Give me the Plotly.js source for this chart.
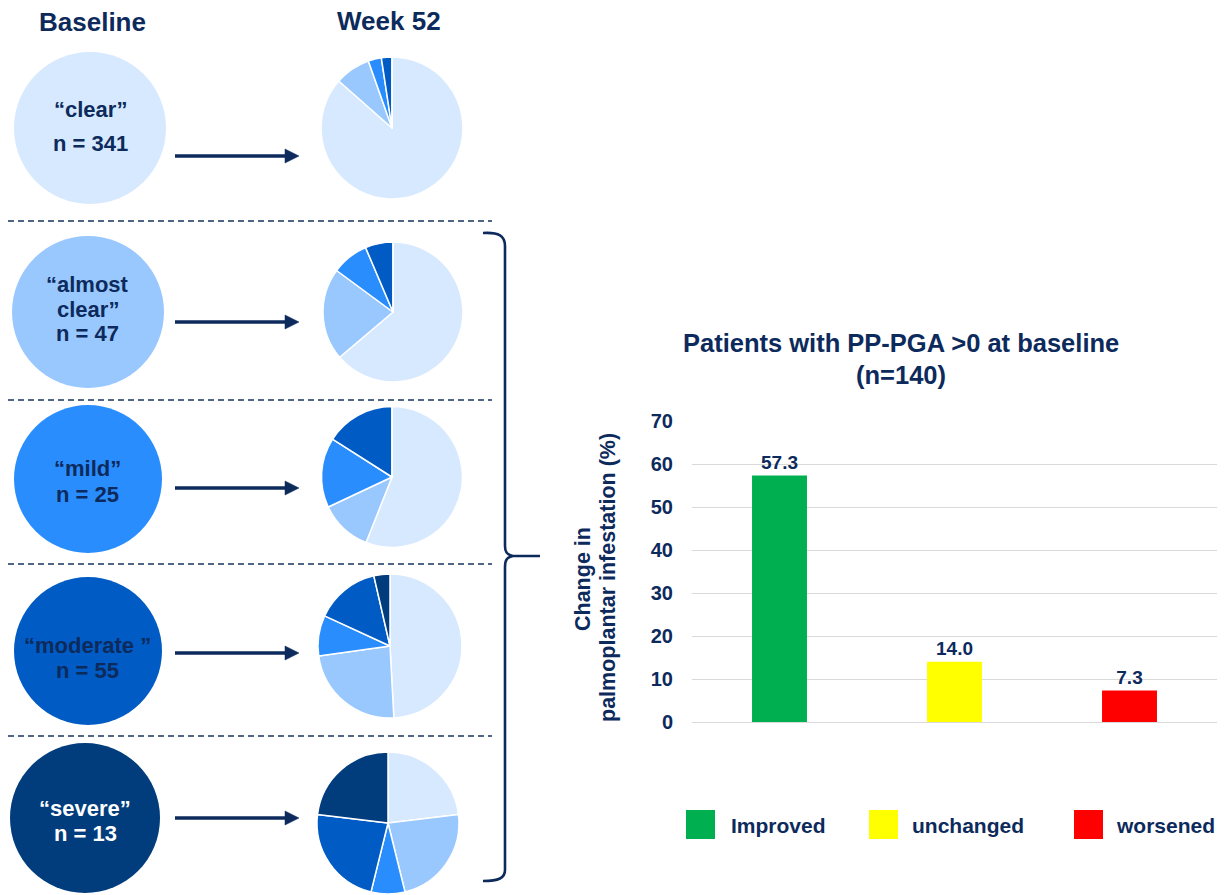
<!DOCTYPE html>
<html>
<head>
<meta charset="utf-8">
<script src="https://cdn.plot.ly/plotly-3.0.1.min.js"></script>
<style>html,body{margin:0;padding:0;background:#fff;}#chart{width:1226px;height:895px;}</style>
</head>
<body>
<div id="chart"></div>
<script>
// ---------- data ----------
const severityLevels = ['clear', 'almost clear', 'mild', 'moderate', 'severe'];
const baselineLabels = [['“clear”', 'n = 341'], ['“almost', 'clear”', 'n = 47'], ['“mild”', 'n = 25'], ['“moderate ”', 'n = 55'], ['“severe”', 'n = 13']];
const baselineN = [341, 47, 25, 55, 13];
// Week 52 distribution (% of patients) by baseline group, order: clear, almost clear, mild, moderate, severe
const week52FromClear = [86.5, 8.1, 3.0, 2.4, 0];
const week52FromAlmostClear = [63.8, 21.3, 8.5, 6.4, 0];
const week52FromMild = [56.0, 12.0, 16.0, 16.0, 0];
const week52FromModerate = [49.1, 23.6, 9.1, 14.5, 3.6];
const week52FromSevere = [23.1, 23.1, 7.7, 23.1, 23.1];
const outcomeCategories = ['Improved', 'unchanged', 'worsened'];
const outcomePercent = [57.3, 14.0, 7.3];
const yTicks = [0, 10, 20, 30, 40, 50, 60, 70];

// ---------- styling ----------
const W = 1226, H = 895;
const NAVY = '#0d2a5c';
const FONT = '"Liberation Sans", Arial, sans-serif';
const levelColors = ['#d6e9fe', '#99c8fe', '#2a8dfe', '#005bc4', '#013c7c'];
const outcomeColors = ['#00b050', '#ffff00', '#ff0000'];
const px = x => x / W;
const py = y => 1 - y / H;
const P = (x, y) => px(x) + ',' + py(y);

const baseGeom = [[90, 128, 76], [88, 312, 76], [88, 479, 74], [88, 651, 74], [85, 818, 75]];
const weekGeom = [[392, 128, 71], [393, 312, 70], [392, 477, 70.5], [390, 646, 72], [388, 823, 71]];
const textY = [[110, 143], [285, 310, 334], [469, 494], [645, 670], [808, 833]];
const arrowY = [156, 322, 488, 653, 818];
const week52 = [week52FromClear, week52FromAlmostClear, week52FromMild, week52FromModerate, week52FromSevere];

const dom = g => ({x: [px(g[0] - g[2]), px(g[0] + g[2])], y: [py(g[1] + g[2]), py(g[1] - g[2])]});

const traces = [];
baselineN.forEach((n, i) => {
  traces.push({
    type: 'pie', values: [n], labels: [severityLevels[i]], sort: false,
    marker: {colors: [levelColors[i]], line: {width: 0}},
    textinfo: 'none', hoverinfo: 'skip', domain: dom(baseGeom[i])
  });
});
week52.forEach((vals, i) => {
  traces.push({
    type: 'pie', values: vals, labels: severityLevels, sort: false,
    direction: 'clockwise', rotation: 0,
    marker: {colors: levelColors, line: {color: '#ffffff', width: 1.5}},
    textinfo: 'none', hoverinfo: 'skip', domain: dom(weekGeom[i])
  });
});
traces.push({
  type: 'bar', x: outcomeCategories, y: outcomePercent,
  marker: {color: outcomeColors}, width: 0.314,
  text: outcomePercent.map(v => v.toFixed(1)), textposition: 'outside',
  textfont: {family: FONT, size: 19, color: NAVY, weight: 700},
  cliponaxis: false, hoverinfo: 'skip', xaxis: 'x', yaxis: 'y'
});

const shapes = [];
const annotations = [];

// headers
annotations.push({xref: 'paper', yref: 'paper', x: px(92), y: py(22), text: '<b>Baseline</b>', showarrow: false,
  xanchor: 'center', yanchor: 'middle', font: {family: FONT, size: 26, color: NAVY}});
annotations.push({xref: 'paper', yref: 'paper', x: px(389), y: py(21), text: '<b>Week 52</b>', showarrow: false,
  xanchor: 'center', yanchor: 'middle', font: {family: FONT, size: 26, color: NAVY}});

// baseline texts
baselineLabels.forEach((lines, i) => {
  lines.forEach((t, j) => {
    annotations.push({xref: 'paper', yref: 'paper', x: px(baseGeom[i][0]), y: py(textY[i][j]), text: '<b>' + t + '</b>',
      showarrow: false, xanchor: 'center', yanchor: 'middle',
      font: {family: FONT, size: 22, color: i === 4 ? '#ffffff' : NAVY}});
  });
});

// arrows
arrowY.forEach(y => {
  shapes.push({type: 'line', xref: 'paper', yref: 'paper', x0: px(175), x1: px(286), y0: py(y), y1: py(y),
    line: {color: NAVY, width: 3.5}});
  shapes.push({type: 'path', xref: 'paper', yref: 'paper', path: 'M' + P(285, y - 7) + ' L' + P(299, y) + ' L' + P(285, y + 7) + ' Z',
    fillcolor: NAVY, line: {color: NAVY, width: 0.5}});
});

// dashed separators
[221, 400, 564, 736].forEach(y => {
  shapes.push({type: 'line', xref: 'paper', yref: 'paper', x0: px(8), x1: px(492), y0: py(y), y1: py(y),
    line: {color: '#17355f', width: 1.3, dash: '6px,4px'}});
});

// brace
shapes.push({type: 'path', xref: 'paper', yref: 'paper',
  path: 'M' + P(483, 233) + ' C' + P(499, 232) + ' ' + P(505, 236) + ' ' + P(505, 246) +
        ' L' + P(505, 546) + ' C' + P(505, 552) + ' ' + P(507, 555) + ' ' + P(513, 556) +
        ' L' + P(540, 556) + ' M' + P(513, 556) + ' C' + P(507, 557) + ' ' + P(505, 560) + ' ' + P(505, 567) +
        ' L' + P(505, 870) + ' C' + P(505, 878) + ' ' + P(499, 881) + ' ' + P(483, 881),
  line: {color: NAVY, width: 2.6}});

// bar chart title
annotations.push({xref: 'paper', yref: 'paper', x: px(901), y: py(343), text: '<b>Patients with PP-PGA >0 at baseline</b>',
  showarrow: false, xanchor: 'center', yanchor: 'middle', font: {family: FONT, size: 25.5, color: NAVY}});
annotations.push({xref: 'paper', yref: 'paper', x: px(901), y: py(375), text: '<b>(n=140)</b>',
  showarrow: false, xanchor: 'center', yanchor: 'middle', font: {family: FONT, size: 25.5, color: NAVY}});

// y-axis title (two lines)
annotations.push({xref: 'paper', yref: 'paper', x: px(583), y: py(579), text: '<b>Change in</b>', textangle: -90,
  showarrow: false, xanchor: 'center', yanchor: 'middle', font: {family: FONT, size: 21.5, color: NAVY}});
annotations.push({xref: 'paper', yref: 'paper', x: px(608), y: py(578), text: '<b>palmoplantar infestation (%)</b>', textangle: -90,
  showarrow: false, xanchor: 'center', yanchor: 'middle', font: {family: FONT, size: 21.5, color: NAVY}});

// legend
const legX = [686, 869, 1074];
const legTextX = [729, 910, 1114];
outcomeCategories.forEach((c, i) => {
  shapes.push({type: 'rect', xref: 'paper', yref: 'paper', x0: px(legX[i]), x1: px(legX[i] + 29), y0: py(839), y1: py(810),
    fillcolor: outcomeColors[i], line: {width: 0}});
  annotations.push({xref: 'paper', yref: 'paper', x: px(legTextX[i]), y: py(825), text: '<b>' + c + '</b>',
    showarrow: false, xanchor: 'left', yanchor: 'middle', font: {family: FONT, size: 21, color: NAVY}});
});

const layout = {
  width: W, height: H, margin: {l: 0, r: 0, t: 0, b: 0},
  paper_bgcolor: '#ffffff', plot_bgcolor: '#ffffff', showlegend: false,
  font: {family: FONT, color: NAVY},
  xaxis: {domain: [px(692), px(1217)], range: [-0.5, 2.5], showticklabels: false, showgrid: false,
    zeroline: false, showline: false, ticks: '', fixedrange: true},
  yaxis: {domain: [py(722), py(421)], range: [0, 70], tickvals: yTicks, showgrid: true, gridcolor: '#d9d9d9',
    gridwidth: 1, zeroline: true, zerolinecolor: '#d9d9d9', zerolinewidth: 1, showline: false, ticks: '',
    ticklabelstandoff: 18, tickfont: {family: FONT, size: 20, color: NAVY, weight: 700}, fixedrange: true},
  shapes: shapes, annotations: annotations
};

Plotly.newPlot('chart', traces, layout, {displayModeBar: false, staticPlot: true});
</script>
</body>
</html>
